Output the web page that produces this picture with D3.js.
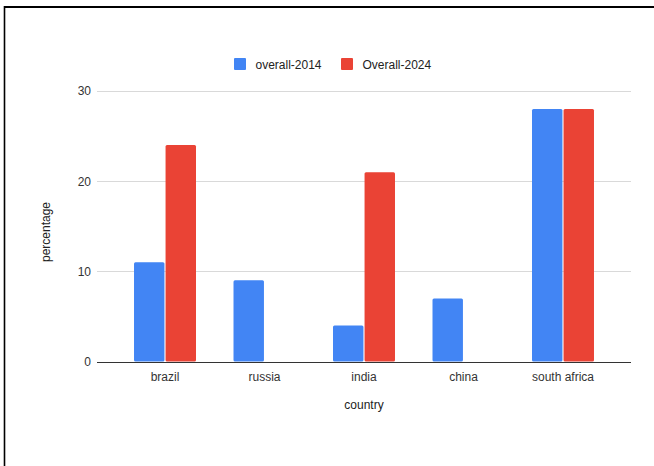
<!DOCTYPE html>
<html><head><meta charset="utf-8">
<script src="https://cdn.jsdelivr.net/npm/d3@7"></script>
<style>
html,body{margin:0;padding:0;background:#fff;}
svg{display:block;font-family:"Liberation Sans",Arial,Helvetica,sans-serif;}
</style></head>
<body>
<svg id="chart" width="654" height="466"></svg>
<script>
const categories = ["brazil", "russia", "india", "china", "south africa"];
const seriesNames = ["overall-2014", "Overall-2024"];
const overall2014 = [11, 9, 4, 7, 28];
const overall2024 = [24, 0, 21, 0, 28];
const seriesColors = ["#4285F4", "#EA4335"];
const yTicks = [0, 10, 20, 30];

const svg = d3.select("#chart");
const W = 654, H = 466;
const m = {left: 97, right: 23, top: 91, bottom: 104};

// frame lines
svg.append("line").attr("x1", 4.5).attr("x2", 4.5).attr("y1", 6).attr("y2", H)
  .attr("stroke", "#000").attr("stroke-width", 1.6);
svg.append("line").attr("x1", 4).attr("x2", W).attr("y1", 7).attr("y2", 7)
  .attr("stroke", "#000").attr("stroke-width", 2);

const x0 = d3.scaleBand().domain(categories).range([m.left, W - m.right])
  .paddingInner(0.377).paddingOuter(0.372);
const x1 = d3.scaleBand().domain(seriesNames).range([0, x0.bandwidth()]).paddingInner(0.035);
const y = d3.scaleLinear().domain([0, 30]).range([H - m.bottom - 0.5, m.top]);

// gridlines
const grid = svg.append("g");
grid.selectAll("line").data(yTicks.filter(d => d !== 0)).join("line")
  .attr("x1", m.left).attr("x2", W - m.right)
  .attr("y1", d => Math.round(y(d)) + 0.5).attr("y2", d => Math.round(y(d)) + 0.5)
  .attr("stroke", "#d9d9d9").attr("stroke-width", 1);

// y axis labels
const yAxis = d3.axisLeft(y).tickValues(yTicks).tickSize(0).tickPadding(6).tickFormat(d3.format("d"));
const ya = svg.append("g").attr("transform", `translate(${m.left},0)`).call(yAxis);
ya.select(".domain").remove();
ya.selectAll("text").attr("font-size", 12).attr("fill", "#333")
  .attr("font-family", "Liberation Sans, Arial, sans-serif").attr("x", -6);

// bars
const data = categories.map((c, i) => ({c, vals: [overall2014[i], overall2024[i]]}));
const groups = svg.append("g").selectAll("g").data(data).join("g")
  .attr("transform", d => `translate(${x0(d.c)},0)`);
groups.selectAll("rect").data(d => d.vals.map((v, j) => ({s: seriesNames[j], v, j})).filter(e => e.v > 0))
  .join("rect")
  .attr("x", e => x1(e.s))
  .attr("width", x1.bandwidth())
  .attr("y", e => y(e.v))
  .attr("height", e => y(0) - y(e.v))
  .attr("rx", 1.5)
  .attr("fill", e => seriesColors[e.j]);

// baseline
svg.append("line").attr("x1", m.left).attr("x2", W - m.right)
  .attr("y1", Math.round(y(0)) + 0.5).attr("y2", Math.round(y(0)) + 0.5)
  .attr("stroke", "#333").attr("stroke-width", 1);

// x axis labels
const xAxis = d3.axisBottom(x0).tickSize(0).tickPadding(11);
const xa = svg.append("g").attr("transform", `translate(0,${y(0)})`).call(xAxis);
xa.select(".domain").remove();
xa.selectAll("text").attr("font-size", 12).attr("fill", "#333")
  .attr("font-family", "Liberation Sans, Arial, sans-serif");

// axis titles
svg.append("text").attr("x", 364).attr("y", 409).attr("text-anchor", "middle")
  .attr("font-size", 12).attr("fill", "#222").text("country");
svg.append("text").attr("transform", "translate(50,232) rotate(-90)").attr("text-anchor", "middle")
  .attr("font-size", 12).attr("fill", "#222").text("percentage");

// legend
const legendX = [234, 341];
const lg = svg.append("g").selectAll("g").data(seriesNames).join("g")
  .attr("transform", (d, i) => `translate(${legendX[i]},58)`);
lg.append("rect").attr("width", 12).attr("height", 12).attr("rx", 1).attr("fill", (d, i) => seriesColors[i]);
lg.append("text").attr("x", 21.5).attr("y", 11).attr("font-size", 12).attr("fill", "#222").text(d => d);
</script>
</body></html>
